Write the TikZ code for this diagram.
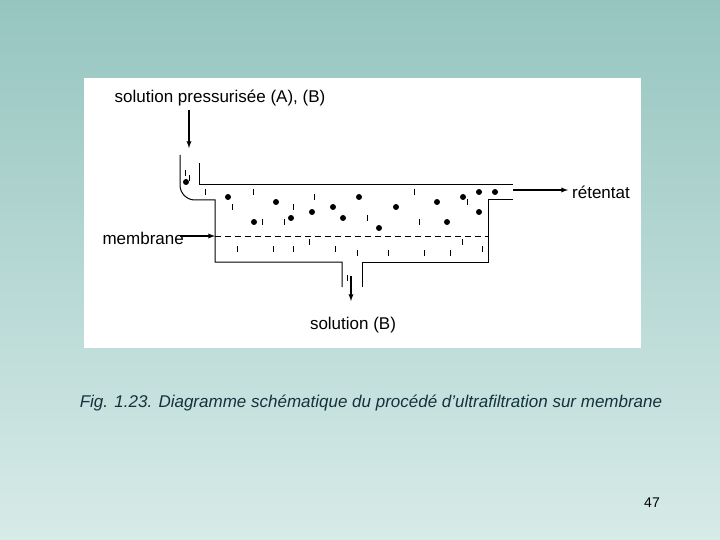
\documentclass[tikz,border=0pt]{standalone}
\usepackage{fontspec}
\setmainfont{Liberation Sans}
\begin{document}
\begin{tikzpicture}[x=1pt,y=-1pt,
  wall/.style={line width=1pt},
  arr/.style={line width=1.3pt,-latex},
  lbl/.style={font=\fontsize{17}{19}\selectfont,inner sep=0},
  dot/.style={circle,fill=black,inner sep=0,minimum size=6pt},
  tk/.style={line width=0.8pt}]
\shade[top color={rgb,255:red,150;green,197;blue,192},bottom color={rgb,255:red,215;green,235;blue,232}] (0,0) rectangle (720,540);
\useasboundingbox (0,0) rectangle (720,540);
\fill[white] (84,78) rectangle (641,348);
% walls
\draw[wall] (180,155) -- (180,185) to[out=90+180,in=180] (195,200) -- (215,200) -- (215,262) -- (342,262) -- (342,287);
\draw[wall] (362,287) -- (362,262) -- (488,262) -- (488,200) -- (513,200);
\draw[wall] (199,163) -- (199,185) -- (513,185);
\draw[wall,dashed,dash pattern=on 6pt off 4pt] (215,236) -- (488,236);
% labels
\node[lbl] (feed) at (220,98) {solution pressurisée (A), (B)};
\node[lbl,anchor=west] (ret) at (572,192) {rétentat};
\node[lbl,anchor=east] (mem) at (184,238) {membrane};
\node[lbl] (perm) at (353,325) {solution (B)};
\coordinate (feedin) at (189,148);
\coordinate (retst) at (513,190);
\coordinate (retend) at (568,190);
\coordinate (memst) at (180,236);
\coordinate (memend) at (215,236);
\coordinate (permst) at (351,276);
\coordinate (permend) at (351,301);
\draw[arr] (189,110) -- (feedin);
\draw[arr] (retst) -- (retend);
\draw[arr] (memst) -- (memend);
\draw[arr] (permst) -- (permend);
% dots
\foreach \p in {(186,182),(228,197),(276,202),(254,222),(291,218),(312,212),(333,207),(343,218),(359,197),(379,228),(396,207),(437,202),(447,222),(463,197),(479,192),(495,192),(479,212)}
  \node[dot] at \p {};
% ticks
\foreach \x/\y in {185/173,189/178,205/192,253/192,314/197,414/192,232/207,293/207,262/222,284/222,367/218,419/222,467/202,237/249,273/249,293/249,309/242,335/249,357/253,388/253,424/253,450/253,462/242,482/249,347/278}
  \draw[tk] (\x,\y-3) -- (\x,\y+3);
\node[font=\itshape\fontsize{17}{19}\selectfont,text={rgb,255:red,20;green,50;blue,60},inner sep=0] (cap) at (371,403) {Fig. 1.23. Diagramme schématique du procédé d’ultrafiltration sur membrane};
\node[font=\fontsize{14}{16}\selectfont,inner sep=0] (pg) at (652,503) {47};
\end{tikzpicture}
\end{document}
